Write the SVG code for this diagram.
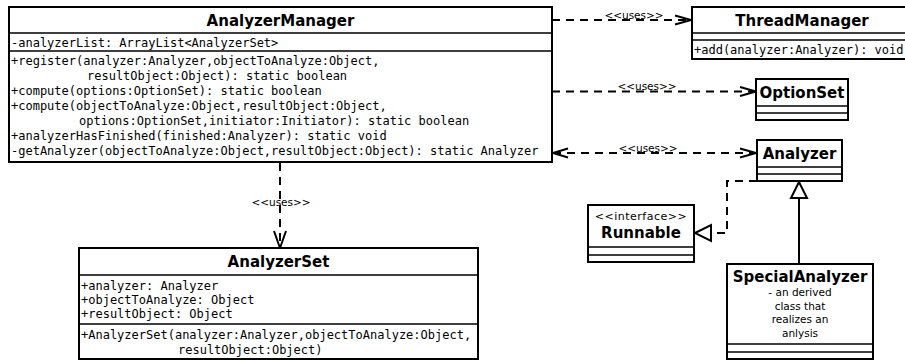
<svg xmlns="http://www.w3.org/2000/svg" width="905" height="360" viewBox="0 0 905 360">
  <style>
    .box { fill: #fff; stroke: #000; stroke-width: 2; }
    .sep { stroke: #000; stroke-width: 1.5; fill: none; }
    .title { font-family: "DejaVu Sans", sans-serif; font-weight: bold; font-size: 15px; text-anchor: middle; fill: #000; }
    .mono { font-family: "DejaVu Sans Mono", monospace; font-size: 12px; fill: #000; }
    .small { font-family: "DejaVu Sans", sans-serif; font-size: 10.5px; text-anchor: middle; fill: #000; }
    .stereo { font-family: "DejaVu Sans", sans-serif; font-size: 11px; letter-spacing: 0.5px; text-anchor: middle; fill: #000; }
    .dash { fill: none; stroke: #000; stroke-width: 2; stroke-dasharray: 8 6; }
    .head { fill: none; stroke: #000; stroke-width: 2; stroke-linejoin: miter; }
    .solid { fill: none; stroke: #000; stroke-width: 2; }
    .tri { fill: #fff; stroke: #000; stroke-width: 2; }
  </style>

  <rect width="905" height="360" fill="#fff"/>

  <!-- connectors -->
  <g id="connectors">
    <!-- AnalyzerManager uses ThreadManager -->
    <path class="dash" d="M552,20 H690"/>
    <path class="head" d="M675,15.5 L691,20 L675,24.5"/>
    <text class="small" x="634" y="19">&lt;&lt;uses&gt;&gt;</text>

    <!-- AnalyzerManager uses OptionSet -->
    <path class="dash" d="M552,91.5 H755"/>
    <path class="head" d="M740,87 L756,91.5 L740,96"/>
    <text class="small" x="647" y="90">&lt;&lt;uses&gt;&gt;</text>

    <!-- AnalyzerManager uses Analyzer (both directions) -->
    <path class="dash" d="M553,153 H755"/>
    <path class="head" d="M568,148.5 L553,153 L568,157.5"/>
    <path class="head" d="M740,148.5 L756,153 L740,157.5"/>
    <text class="small" x="648" y="152">&lt;&lt;uses&gt;&gt;</text>

    <!-- AnalyzerManager uses AnalyzerSet -->
    <path class="dash" d="M280,163 V246"/>
    <path class="head" d="M274,231 L280,248 L286,231"/>
    <text class="small" x="281" y="206">&lt;&lt;uses&gt;&gt;</text>

    <!-- Analyzer realizes Runnable -->
    <path class="dash" d="M757,181 H727 V233 H711"/>
    <polygon class="tri" points="695,233 711,225 711,241"/>

    <!-- SpecialAnalyzer extends Analyzer -->
    <path class="solid" d="M799,264 V198"/>
    <polygon class="tri" points="799,182 791,198 807,198"/>
  </g>

  <!-- AnalyzerManager -->
  <g id="AnalyzerManager">
    <rect class="box" x="9" y="7" width="543" height="155"/>
    <path class="sep" d="M9,33 H552 M9,51 H552"/>
    <text class="title" x="280.5" y="26">AnalyzerManager</text>
    <text class="mono" x="11" y="46.5">-analyzerList: ArrayList&lt;AnalyzerSet&gt;</text>
    <text class="mono" x="11" y="64.5">+register(analyzer:Analyzer,objectToAnalyze:Object,</text>
    <text class="mono" x="87" y="79.5">resultObject:Object): static boolean</text>
    <text class="mono" x="11" y="94.5">+compute(options:OptionSet): static boolean</text>
    <text class="mono" x="11" y="109.5">+compute(objectToAnalyze:Object,resultObject:Object,</text>
    <text class="mono" x="79" y="124.5">options:OptionSet,initiator:Initiator): static boolean</text>
    <text class="mono" x="11" y="139.5">+analyzerHasFinished(finished:Analyzer): static void</text>
    <text class="mono" x="11" y="154.5">-getAnalyzer(objectToAnalyze:Object,resultObject:Object): static Analyzer</text>
  </g>

  <!-- ThreadManager -->
  <g id="ThreadManager">
    <rect class="box" x="692" y="7" width="220" height="52"/>
    <path class="sep" d="M692,33 H912 M692,40 H912"/>
    <text class="title" x="802" y="26">ThreadManager</text>
    <text class="mono" x="694" y="53.5">+add(analyzer:Analyzer): void</text>
  </g>

  <!-- OptionSet -->
  <g id="OptionSet">
    <rect class="box" x="756" y="79" width="92" height="41"/>
    <path class="sep" d="M756,106 H848 M756,113 H848"/>
    <text class="title" x="802" y="98">OptionSet</text>
  </g>

  <!-- Analyzer -->
  <g id="Analyzer">
    <rect class="box" x="757" y="140" width="85" height="41"/>
    <path class="sep" d="M757,167 H842 M757,174 H842"/>
    <text class="title" x="799.5" y="159">Analyzer</text>
  </g>

  <!-- Runnable -->
  <g id="Runnable">
    <rect class="box" x="588" y="205" width="106" height="57"/>
    <path class="sep" d="M588,247 H694 M588,255 H694"/>
    <text class="stereo" x="641" y="220">&lt;&lt;interface&gt;&gt;</text>
    <text class="title" x="641" y="238">Runnable</text>
  </g>

  <!-- AnalyzerSet -->
  <g id="AnalyzerSet">
    <rect class="box" x="79" y="248" width="399" height="111"/>
    <path class="sep" d="M79,275 H478 M79,324 H478"/>
    <text class="title" x="278.5" y="267">AnalyzerSet</text>
    <text class="mono" x="81" y="289.5">+analyzer: Analyzer</text>
    <text class="mono" x="81" y="303.5">+objectToAnalyze: Object</text>
    <text class="mono" x="81" y="317.5">+resultObject: Object</text>
    <text class="mono" x="81" y="339">+AnalyzerSet(analyzer:Analyzer,objectToAnalyze:Object,</text>
    <text class="mono" x="178" y="353.5">resultObject:Object)</text>
  </g>

  <!-- SpecialAnalyzer -->
  <g id="SpecialAnalyzer">
    <rect class="box" x="727" y="264" width="146" height="95"/>
    <path class="sep" d="M727,344 H873 M727,352 H873"/>
    <text class="title" x="800" y="282">SpecialAnalyzer</text>
    <text class="small" x="800" y="296">- an derived</text>
    <text class="small" x="800" y="309.5">class that</text>
    <text class="small" x="800" y="323">realizes an</text>
    <text class="small" x="800" y="336.5">anlysis</text>
  </g>
</svg>
